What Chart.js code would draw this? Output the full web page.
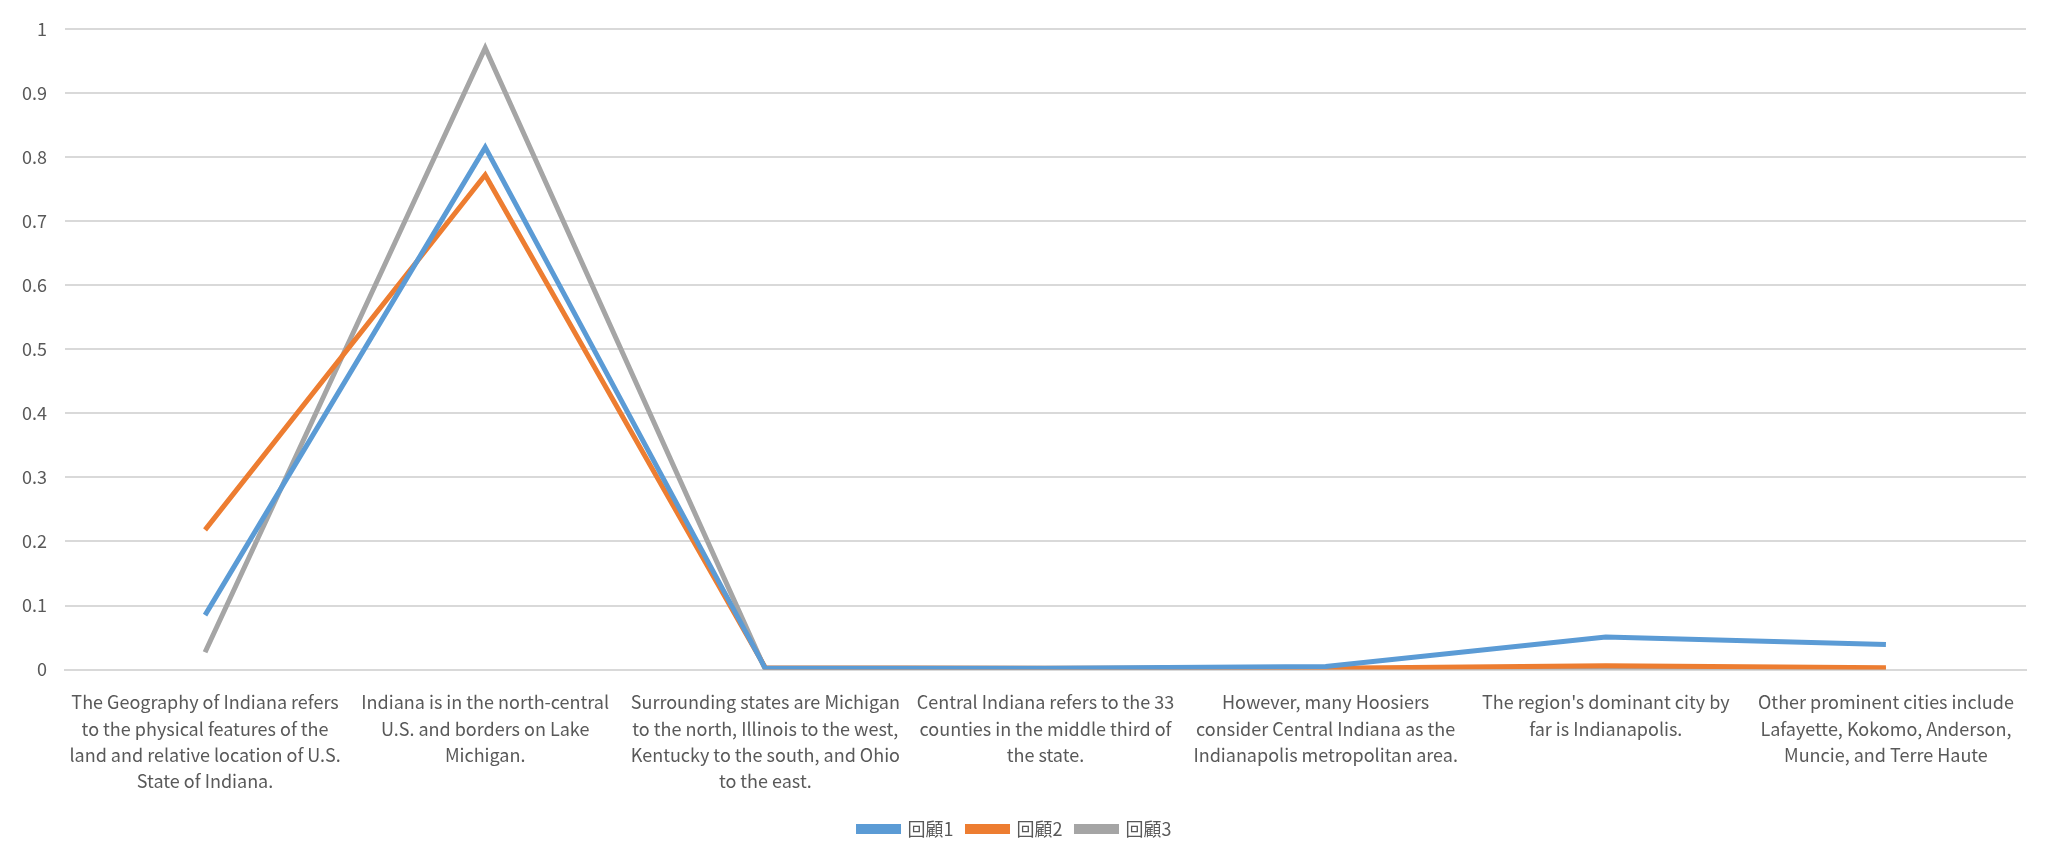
<!DOCTYPE html>
<html>
<head>
<meta charset="utf-8">
<script src="https://cdn.jsdelivr.net/npm/chart.js@4"></script>
<style>
  html, body { margin: 0; padding: 0; background: #fff; }
  #wrap { width: 2052px; height: 864px; }
</style>
</head>
<body>
<div id="wrap"><canvas id="chart"></canvas></div>
<script>
const categories = [
  ["The Geography of Indiana refers", "to the physical features of the", "land and relative location of U.S.", "State of Indiana."],
  ["Indiana is in the north-central", "U.S. and borders on Lake", "Michigan."],
  ["Surrounding states are Michigan", "to the north, Illinois to the west,", "Kentucky to the south, and Ohio", "to the east."],
  ["Central Indiana refers to the 33", "counties in the middle third of", "the state."],
  ["However, many Hoosiers", "consider Central Indiana as the", "Indianapolis metropolitan area."],
  ["The region's dominant city by", "far is Indianapolis."],
  ["Other prominent cities include", "Lafayette, Kokomo, Anderson,", "Muncie, and Terre Haute"]
]
const series1 = [0.085, 0.815, 0.002, 0.002, 0.005, 0.051, 0.039]
const series2 = [0.218, 0.772, 0.003, 0.002, 0.002, 0.006, 0.003]
const series3 = [0.027, 0.970, 0.000, 0.000, 0.001, 0.002, 0.000]
const seriesNames = ["回顧1", "回顧2", "回顧3"]
const colors = ["#5B9BD5", "#ED7D31", "#A5A5A5"]

const font = "'Liberation Sans Narrow', 'Noto Sans CJK TC', sans-serif"

new Chart(document.getElementById("chart"), {
  type: "line",
  data: {
    labels: categories,
    datasets: [series1, series2, series3].map((d, i) => ({
      label: seriesNames[i],
      data: d,
      borderColor: colors[i],
      backgroundColor: colors[i],
      borderWidth: 5,
      pointRadius: 0,
      tension: 0
    }))
  },
  options: {
    responsive: true,
    maintainAspectRatio: false,
    animation: false,
    layout: { padding: { left: 4, right: 26, top: 18, bottom: 16 } },
    scales: {
      y: {
        min: 0, max: 1,
        ticks: {
          stepSize: 0.1, color: "#595959", font: { family: font, size: 18 }, padding: 18,
          callback: v => String(Math.round(v * 10) / 10)
        },
        grid: { color: "#D9D9D9", lineWidth: 2, drawTicks: false },
        border: { display: false }
      },
      x: {
        offset: true,
        ticks: { color: "#595959", font: { family: font, size: 18, lineHeight: 1.45 }, maxRotation: 0, autoSkip: false, padding: 12 },
        grid: { display: false },
        border: { color: "#D9D9D9", width: 2 }
      }
    },
    plugins: {
      legend: {
        position: "bottom",
        labels: { color: "#595959", font: { family: font, size: 18 }, boxWidth: 40, boxHeight: 5, padding: 14 }
      },
      tooltip: { enabled: false }
    }
  }
})
</script>
</body>
</html>
